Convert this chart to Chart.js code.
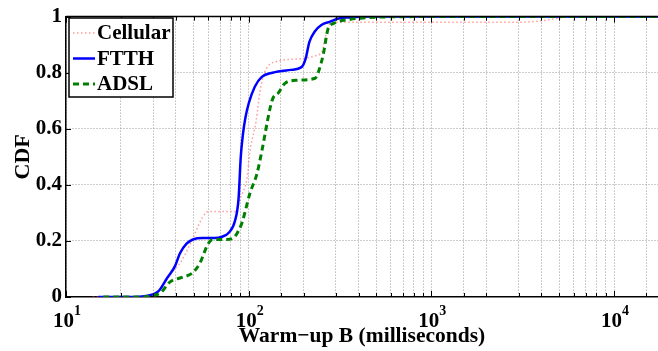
<!DOCTYPE html>
<html><head><meta charset="utf-8">
<script src="https://cdn.jsdelivr.net/npm/chart.js@4.4.1/dist/chart.umd.min.js"></script>
<style>html,body{margin:0;padding:0;background:#fff;overflow:hidden}</style>
</head><body>
<canvas id="c" width="658" height="351"></canvas>
<script>
// ---- data ----
const seriesLabels = ['Cellular', 'FTTH', 'ADSL'];
const cellularX = [14, 22, 29, 33, 37, 43, 49.5, 56, 60, 70, 84, 91, 98, 101.6, 110, 115, 122, 142, 196, 230, 252, 265, 279, 310, 400, 1000, 3000, 4000, 5000, 5800, 17400];
const cellularY = [0, 0, 0.005, 0.03, 0.078, 0.13, 0.21, 0.285, 0.305, 0.305, 0.305, 0.36, 0.425, 0.52, 0.63, 0.73, 0.80, 0.84, 0.85, 0.86, 0.876, 0.936, 0.975, 0.98, 0.98, 0.98, 0.98, 0.985, 0.995, 1.0, 1.0];
const ftthX = [15, 22, 28, 32, 35.7, 39.5, 42, 45.7, 49.5, 56, 65, 71.5, 78, 84, 88, 90.5, 93, 96, 100, 108, 118, 135, 170, 195, 205, 215, 230, 250, 279, 310, 360, 450, 1000, 17400];
const ftthY = [0, 0, 0.005, 0.02, 0.067, 0.11, 0.155, 0.19, 0.205, 0.21, 0.21, 0.215, 0.23, 0.27, 0.35, 0.50, 0.58, 0.64, 0.69, 0.75, 0.785, 0.80, 0.81, 0.82, 0.85, 0.91, 0.947, 0.97, 0.982, 0.993, 0.997, 1.0, 1.0, 1.0];
const adslX = [16, 25, 30, 33, 37, 43.7, 49, 54, 60, 63.7, 75, 82, 86, 92, 101.6, 111, 118, 131, 136, 145, 158, 184, 231, 240, 256, 272, 290, 358, 420, 500, 1000, 17400];
const adslY = [0, 0, 0.005, 0.015, 0.053, 0.071, 0.085, 0.12, 0.19, 0.205, 0.205, 0.21, 0.225, 0.266, 0.37, 0.44, 0.52, 0.674, 0.71, 0.727, 0.762, 0.773, 0.78, 0.80, 0.865, 0.957, 0.975, 0.99, 0.995, 0.998, 1.0, 1.0];
const xTickBase = '10';
const xTickExponents = { 10: '1', 100: '2', 1000: '3', 10000: '4' };
const yTickLabels = { 0: '0', 0.2: '0.2', 0.4: '0.4', 0.6: '0.6', 0.8: '0.8', 1: '1' };
const xTitle = 'Warm\u2212up B (milliseconds)';
const yTitle = 'CDF';

// ---- build ----
const FONT = "'Liberation Serif', 'Times New Roman', serif";
const pts = (xs, ys) => xs.map((x, i) => ({ x: x, y: ys[i] }));
const isPow10 = v => Math.abs(Math.log10(v) - Math.round(Math.log10(v))) < 1e-9;

const innerTicks = {
  id: 'innerTicks',
  afterDatasetsDraw(chart) {
    const ctx = chart.ctx, a = chart.chartArea;
    const xs = chart.scales.x, ys = chart.scales.y;
    ctx.save();
    ctx.strokeStyle = '#000';
    ctx.lineWidth = 1;
    xs.ticks.forEach(t => {
      const px = Math.round(xs.getPixelForValue(t.value)) + 0.5;
      if (px > a.right - 1) return;
      const len = isPow10(t.value) ? 6 : 4;
      ctx.beginPath();
      ctx.moveTo(px, a.bottom); ctx.lineTo(px, a.bottom - len);
      ctx.moveTo(px, a.top); ctx.lineTo(px, a.top + len);
      ctx.stroke();
    });
    ys.ticks.forEach(t => {
      const py = Math.round(ys.getPixelForValue(t.value)) + 0.5;
      ctx.beginPath();
      ctx.moveTo(a.left, py); ctx.lineTo(a.left + 5, py);
      ctx.stroke();
    });
    ctx.lineWidth = 1.5;
    ctx.beginPath();
    ctx.moveTo(a.left, a.top); ctx.lineTo(a.right, a.top);
    ctx.stroke();
    ctx.restore();
  }
};

// power-of-ten tick labels with a raised exponent, placed at the scale's tick pixels
const powerLabels = {
  id: 'powerLabels',
  afterDraw(chart) {
    const ctx = chart.ctx, a = chart.chartArea, xs = chart.scales.x;
    ctx.save();
    ctx.fillStyle = '#000';
    ctx.textBaseline = 'alphabetic';
    ctx.textAlign = 'left';
    xs.ticks.forEach(t => {
      const e = xTickExponents[t.value];
      if (e === undefined) return;
      const px = xs.getPixelForValue(t.value);
      ctx.font = 'bold 21px ' + FONT;
      const wb = ctx.measureText(xTickBase).width;
      ctx.font = 'bold 14px ' + FONT;
      const we = ctx.measureText(e).width;
      const x0 = px - (wb + we) / 2 + 1;
      ctx.font = 'bold 21px ' + FONT;
      ctx.fillText(xTickBase, x0, a.bottom + 30);
      ctx.font = 'bold 14px ' + FONT;
      ctx.fillText(e, x0 + wb, a.bottom + 18);
    });
    ctx.restore();
  }
};

const boxLegend = {
  id: 'boxLegend',
  afterDraw(chart) {
    const ctx = chart.ctx;
    const ds = chart.data.datasets;
    const x0 = 69, y0 = 18, w = 104, h = 79;
    ctx.save();
    ctx.fillStyle = '#fff';
    ctx.fillRect(x0, y0, w, h);
    ctx.strokeStyle = '#000';
    ctx.lineWidth = 1.5;
    ctx.strokeRect(x0, y0, w, h);
    ctx.font = 'bold 21px ' + FONT;
    ctx.textBaseline = 'middle';
    ctx.fillStyle = '#000';
    ds.forEach((d, i) => {
      const cy = y0 + 15 + i * 25.5;
      ctx.save();
      ctx.strokeStyle = d.borderColor;
      ctx.lineWidth = d.borderWidth;
      ctx.setLineDash(d.borderDash || []);
      ctx.beginPath();
      ctx.moveTo(x0 + 4, cy); ctx.lineTo(x0 + 26, cy);
      ctx.stroke();
      ctx.restore();
      ctx.fillText(d.label, x0 + 28, cy + 1);
    });
    ctx.restore();
  }
};

new Chart(document.getElementById('c'), {
  type: 'line',
  data: {
    datasets: [
      { label: seriesLabels[0], data: pts(cellularX, cellularY), borderColor: 'rgba(255,90,90,0.6)', borderWidth: 1.5, borderDash: [1.5, 2.5], order: 3 },
      { label: seriesLabels[1], data: pts(ftthX, ftthY), borderColor: '#0000ff', borderWidth: 2.5, order: 2 },
      { label: seriesLabels[2], data: pts(adslX, adslY), borderColor: '#008000', borderWidth: 3, borderDash: [6, 4], order: 1 }
    ]
  },
  options: {
    responsive: false,
    animation: false,
    layout: { padding: { top: 15, right: 0, left: 0, bottom: 0 } },
    elements: { point: { radius: 0 }, line: { cubicInterpolationMode: 'monotone', fill: false } },
    plugins: { legend: { display: false }, tooltip: { enabled: false } },
    scales: {
      x: {
        type: 'logarithmic',
        min: 10, max: 17400,
        afterFit(s) { s.height = 54; s.paddingLeft = 0; s.paddingRight = 0; },
        grid: { color: '#9a9a9a', lineWidth: 1, drawTicks: false },
        border: { color: '#000', width: 1.5, dash: [1, 2] },
        ticks: {
          autoSkip: false, maxRotation: 0, padding: 12, color: '#000',
          font: { family: FONT, size: 21, weight: 'bold' },
          callback: () => ''
        },
        title: { display: true, text: xTitle, color: '#000', font: { family: FONT, size: 21.5, weight: 'bold' }, padding: { top: 0, bottom: 2 } }
      },
      y: {
        min: 0, max: 1,
        afterFit(s) { s.width = 66; },
        grid: { color: v => (v.tick && (v.tick.value === 0 || v.tick.value === 1)) ? 'rgba(0,0,0,0)' : '#9a9a9a', lineWidth: 1, drawTicks: false },
        border: { color: '#000', width: 1.5, dash: [1, 2] },
        ticks: {
          stepSize: 0.2, padding: 4, color: '#000',
          font: { family: FONT, size: 21, weight: 'bold' },
          callback: v => { const k = Math.round(v * 10) / 10; return yTickLabels[k] !== undefined ? yTickLabels[k] : ''; }
        },
        title: { display: true, text: yTitle, color: '#000', font: { family: FONT, size: 22, weight: 'bold' }, padding: { top: 10, bottom: 0 } }
      }
    }
  },
  plugins: [innerTicks, powerLabels, boxLegend]
});
</script>
</body></html>
